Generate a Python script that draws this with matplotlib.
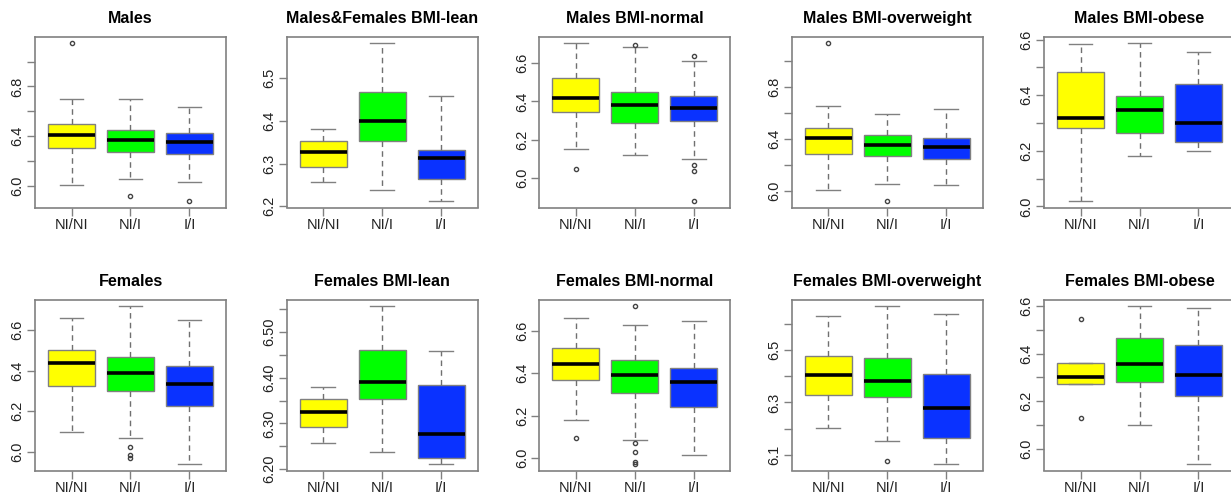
import math
import matplotlib
matplotlib.use('Agg')
import matplotlib.pyplot as plt

plt.rcParams['font.family'] = ['Liberation Sans', 'DejaVu Sans']

titles = ['Males', 'Males&Females BMI-lean', 'Males BMI-normal', 'Males BMI-overweight',
          'Males BMI-obese', 'Females', 'Females BMI-lean', 'Females BMI-normal',
          'Females BMI-overweight', 'Females BMI-obese']
groups = ['NI/NI', 'NI/I', 'I/I']
box_colors = ['#ffff00', '#00ff00', '#0a32ff']

# box statistics, one row per panel, columns NI/NI, NI/I, I/I
whis_lo = [[6.005, 6.053, 6.035], [6.258, 6.239, 6.212], [6.150, 6.121, 6.102],
           [6.003, 6.049, 6.044], [6.019, 6.182, 6.200], [6.097, 6.067, 5.939],
           [6.257, 6.238, 6.211], [6.178, 6.086, 6.013], [6.204, 6.152, 6.065],
           [6.274, 6.103, 5.937]]
q1 = [[6.301, 6.275, 6.253], [6.293, 6.353, 6.264], [6.343, 6.288, 6.298],
      [6.279, 6.267, 6.241], [6.284, 6.263, 6.232], [6.326, 6.300, 6.226],
      [6.292, 6.353, 6.225], [6.366, 6.305, 6.242], [6.328, 6.320, 6.166],
      [6.274, 6.283, 6.224]]
median = [[6.408, 6.368, 6.355], [6.327, 6.400, 6.312], [6.419, 6.379, 6.367],
          [6.408, 6.351, 6.338], [6.320, 6.346, 6.302], [6.438, 6.390, 6.336],
          [6.326, 6.390, 6.277], [6.445, 6.392, 6.358], [6.406, 6.382, 6.280],
          [6.302, 6.358, 6.309]]
q3 = [[6.501, 6.448, 6.427], [6.353, 6.467, 6.332], [6.522, 6.448, 6.428],
      [6.485, 6.431, 6.410], [6.484, 6.399, 6.440], [6.503, 6.466, 6.425],
      [6.353, 6.461, 6.384], [6.517, 6.464, 6.423], [6.477, 6.471, 6.409],
      [6.362, 6.465, 6.437]]
whis_hi = [[6.701, 6.696, 6.635], [6.381, 6.581, 6.457], [6.702, 6.684, 6.612],
           [6.654, 6.592, 6.631], [6.584, 6.587, 6.557], [6.662, 6.718, 6.651],
           [6.380, 6.556, 6.458], [6.658, 6.627, 6.645], [6.628, 6.666, 6.637],
           [6.362, 6.598, 6.592]]
outliers = [[[7.147], [5.920], [5.877]],
            [[], [], []],
            [[6.047], [6.693], [6.634, 6.071, 6.040, 5.881]],
            [[7.138], [5.918], []],
            [[], [], []],
            [[], [6.023, 5.983, 5.970], []],
            [[], [], []],
            [[6.097], [6.714, 6.070, 6.027, 5.983, 5.972], []],
            [[], [6.077], []],
            [[6.544, 6.131], [], []]]

# y axis ticks per panel (R pretty() style): step, label every n-th tick, decimals
tick_step = [0.2, 0.1, 0.2, 0.2, 0.1, 0.2, 0.05, 0.2, 0.1, 0.1]
label_every = [2, 1, 1, 2, 2, 1, 2, 1, 2, 2]
decimals = [1, 1, 1, 1, 1, 1, 2, 1, 1, 1]

W, H = 1231, 493
fig = plt.figure(figsize=(W / 100, H / 100), dpi=100)

col_left = [35, 286.7, 539.3, 791.7, 1044]
row_top = [37, 300]
ax_w, ax_h = 191, 170.5

edge = '#808080'
for k in range(10):
    r, c = divmod(k, 5)
    left = col_left[c] / W
    bottom = 1 - (row_top[r] + ax_h) / H
    ax = fig.add_axes([left, bottom, ax_w / W, ax_h / H])

    stats = []
    for j in range(3):
        stats.append(dict(med=median[k][j], q1=q1[k][j], q3=q3[k][j],
                          whislo=whis_lo[k][j], whishi=whis_hi[k][j],
                          fliers=outliers[k][j], label=groups[j]))
    bp = ax.bxp(stats, positions=[1, 2, 3], widths=0.8, patch_artist=True,
                boxprops=dict(edgecolor=edge, linewidth=1.0),
                whiskerprops=dict(color='#707070', linestyle=(0, (4, 3)), linewidth=1.0),
                capprops=dict(color=edge, linewidth=1.0),
                medianprops=dict(color='black', linewidth=2.6, solid_capstyle='butt'),
                flierprops=dict(marker='o', markersize=3.0, markerfacecolor='none',
                                markeredgecolor='#444444', markeredgewidth=1.0),
                capwidths=0.4)
    for patch, col in zip(bp['boxes'], box_colors):
        patch.set_facecolor(col)

    vals = []
    for j in range(3):
        vals += [whis_lo[k][j], whis_hi[k][j]] + outliers[k][j]
    lo, hi = min(vals), max(vals)
    pad = 0.04 * (hi - lo)
    ax.set_ylim(lo - pad, hi + pad)
    ax.set_xlim(0.5 - 0.12, 3.5 + 0.12)

    step = tick_step[k]
    first = math.ceil(round((lo - pad) / step, 6)) * step
    ticks = []
    t = first
    while t <= hi + pad + 1e-9:
        ticks.append(round(t, 4))
        t += step
    labels = [f'{v:.{decimals[k]}f}' if i % label_every[k] == 0 else ''
              for i, v in enumerate(ticks)]
    ax.set_yticks(ticks)
    ax.set_yticklabels(labels, rotation=90, va='center')
    ax.set_xticks([1, 2, 3])
    ax.set_xticklabels(groups)

    ax.tick_params(axis='both', direction='out', length=6, width=1, color=edge,
                   labelsize=10.5, labelcolor='#222222', pad=1.5)
    for s in ax.spines.values():
        s.set_color(edge)
        s.set_linewidth(1.2)

    ax.set_title(titles[k], fontsize=11.5, fontweight='bold', pad=10)

fig.savefig('out.png', dpi=100)
